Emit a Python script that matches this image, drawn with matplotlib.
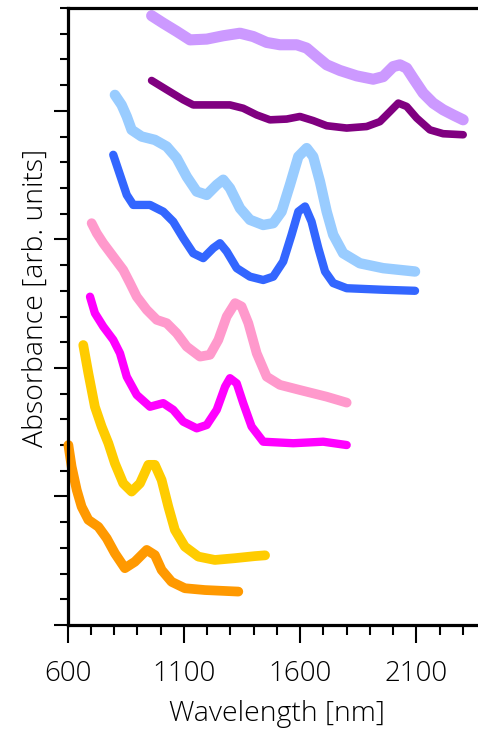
import matplotlib.pyplot as plt
from matplotlib.ticker import MultipleLocator, FixedLocator

plt.rcParams['font.family'] = ['Open Sans', 'DejaVu Sans']

# Spectra, stacked top to bottom (wavelength in nm, absorbance offset in arb. units)
wl_lavender = [961, 1011, 1069, 1126, 1198, 1269, 1341, 1398, 1456, 1513, 1585, 1628, 1671, 1714, 1771,
               1843, 1914, 1957, 2000, 2029, 2058, 2086, 2129, 2172, 2215, 2258, 2301]
ab_lavender = [23.70, 23.41, 23.09, 22.76, 22.79, 22.92, 23.02, 22.89, 22.66, 22.57, 22.57, 22.44, 22.11, 21.79, 21.57,
               21.36, 21.23, 21.33, 21.72, 21.79, 21.66, 21.27, 20.69, 20.30, 20.04, 19.84, 19.65]

wl_purple = [961, 1026, 1097, 1140, 1198, 1298, 1355, 1413, 1470, 1542, 1599, 1656, 1714, 1800, 1886,
             1943, 1986, 2022, 2058, 2101, 2158, 2215, 2301]
ab_purple = [21.18, 20.82, 20.43, 20.23, 20.23, 20.23, 20.10, 19.84, 19.65, 19.68, 19.78, 19.62, 19.42, 19.33, 19.39,
             19.58, 19.97, 20.30, 20.17, 19.72, 19.26, 19.11, 19.07]

wl_lightblue = [803, 832, 854, 875, 918, 975, 1026, 1069, 1112, 1155, 1198, 1241, 1269, 1298, 1341, 1384, 1441,
                1484, 1520, 1556, 1592, 1628, 1656, 1685, 1714, 1742, 1785, 1857, 1957, 2094]
ab_lightblue = [20.62, 20.23, 19.78, 19.26, 19.00, 18.87, 18.61, 18.16, 17.44, 16.86, 16.73, 17.12, 17.32, 16.99, 16.21,
                15.76, 15.56, 15.63, 16.08, 17.12, 18.22, 18.55, 18.22, 17.25, 16.08, 15.18, 14.46, 14.07, 13.88, 13.75]

wl_blue = [796, 825, 854, 882, 954, 1011, 1054, 1097, 1140, 1183, 1226, 1255, 1284, 1327, 1384, 1441, 1484,
           1527, 1563, 1592, 1621, 1649, 1678, 1707, 1742, 1800, 1957, 2094]
ab_blue = [18.29, 17.51, 16.73, 16.34, 16.34, 16.08, 15.69, 15.05, 14.46, 14.27, 14.66, 14.85, 14.53, 13.88, 13.55,
           13.42, 13.55, 14.14, 15.18, 16.08, 16.28, 15.69, 14.66, 13.75, 13.30, 13.10, 13.04, 13.00]

wl_pink = [703, 725, 753, 796, 839, 868, 897, 940, 983, 1026, 1069, 1112, 1169, 1212, 1248, 1284, 1320, 1348,
           1377, 1413, 1456, 1513, 1599, 1714, 1800]
ab_pink = [15.63, 15.24, 14.85, 14.33, 13.81, 13.30, 12.77, 12.26, 11.87, 11.74, 11.35, 10.83, 10.44, 10.51, 11.09,
           12.00, 12.52, 12.39, 11.74, 10.57, 9.66, 9.34, 9.14, 8.88, 8.65]

wl_magenta = [696, 717, 753, 796, 825, 854, 897, 954, 1011, 1054, 1097, 1155, 1198, 1241, 1277, 1298, 1327,
              1355, 1391, 1441, 1570, 1699, 1800]
ab_magenta = [12.77, 12.13, 11.61, 11.09, 10.57, 9.66, 8.95, 8.49, 8.63, 8.37, 7.91, 7.65, 7.78, 8.37, 9.27, 9.60,
              9.40, 8.63, 7.72, 7.13, 7.07, 7.13, 7.00]

wl_yellow = [667, 689, 717, 746, 775, 803, 839, 875, 911, 947, 975, 1004, 1033, 1061, 1104, 1162, 1233, 1320,
             1406, 1449]
ab_yellow = [10.89, 9.79, 8.49, 7.72, 7.07, 6.29, 5.51, 5.19, 5.51, 6.23, 6.23, 5.64, 4.60, 3.70, 3.05, 2.66, 2.53,
             2.60, 2.68, 2.71]

wl_orange = [603, 617, 639, 660, 689, 732, 768, 803, 846, 889, 940, 975, 1004, 1047, 1104, 1190, 1334]
ab_orange = [7.00, 6.16, 5.25, 4.60, 4.09, 3.82, 3.37, 2.79, 2.21, 2.46, 2.92, 2.72, 2.14, 1.68, 1.43, 1.36, 1.30]

x_major = [600, 1100, 1600, 2100]

fig = plt.figure(figsize=(4.78, 7.34), dpi=100)
ax = fig.add_axes([0.1416, 0.1485, 0.8755, 0.8406])

series = [
    (wl_lavender, ab_lavender, '#CC99FF', 8.0),
    (wl_purple, ab_purple, '#800080', 5.5),
    (wl_lightblue, ab_lightblue, '#99CCFF', 7.5),
    (wl_blue, ab_blue, '#3366FF', 6.0),
    (wl_pink, ab_pink, '#FF99CC', 7.0),
    (wl_magenta, ab_magenta, '#FF00FF', 6.0),
    (wl_yellow, ab_yellow, '#FFCC00', 7.0),
    (wl_orange, ab_orange, '#FF9900', 7.0),
]
for wl, ab, col, lw in series:
    ax.plot(wl, ab, color=col, lw=lw, solid_joinstyle='round', solid_capstyle='round', clip_on=False)

ax.set_xlim(600, 2400)
ax.set_ylim(0, 24)

ax.xaxis.set_major_locator(FixedLocator(x_major))
ax.xaxis.set_minor_locator(MultipleLocator(100))
ax.yaxis.set_major_locator(MultipleLocator(5))
ax.yaxis.set_minor_locator(MultipleLocator(1))
ax.set_yticklabels([])

for s in ['left', 'bottom', 'top']:
    ax.spines[s].set_linewidth(2.3)
ax.spines['right'].set_visible(False)

ax.tick_params(axis='x', which='major', length=13, width=1.5, labelsize=20, pad=12)
ax.tick_params(axis='x', which='minor', length=7.5, width=1.5)
ax.tick_params(axis='y', which='major', length=10, width=1.5)
ax.tick_params(axis='y', which='minor', length=6, width=1.5)
ax.tick_params(axis='both', which='both', top=False, right=False)
for lab in ax.get_xticklabels():
    lab.set_fontweight('light')

ax.set_xlabel('Wavelength [nm]', fontsize=20.5, fontweight='light', labelpad=9)
ax.set_ylabel('Absorbance [arb. units]', fontsize=20.5, fontweight='light')
ax.yaxis.set_label_coords(-0.043, 0.53)

fig.savefig('out.png', dpi=100)
